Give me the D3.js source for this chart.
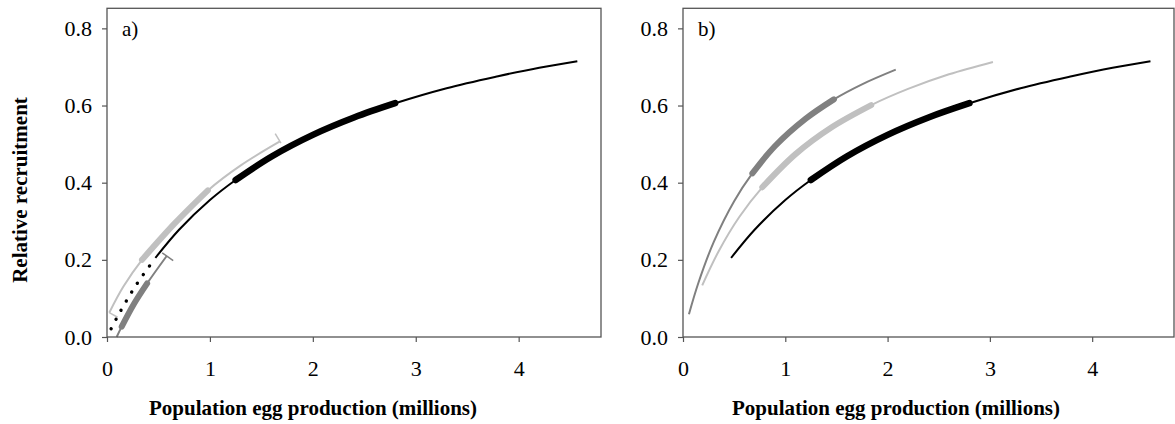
<!DOCTYPE html>
<html>
<head>
<meta charset="utf-8">
<script src="https://cdn.jsdelivr.net/npm/d3@7"></script>
<style>
  body { margin: 0; background: white; }
  svg { display: block; }
</style>
</head>
<body>
<div id="chart"></div>
<script>
// axis ticks
var xTicks = [0, 1, 2, 3, 4];
var yTicks = [0, 0.2, 0.4, 0.6, 0.8];

// black curve (both panels): egg production (millions) vs relative recruitment
var blackE = [0.47, 0.7, 1.0, 1.25, 1.6, 2.0, 2.4, 2.8, 3.3, 3.8, 4.2, 4.57];
var blackR = [0.205, 0.278, 0.355, 0.407, 0.468, 0.524, 0.569, 0.606, 0.645, 0.676, 0.698, 0.715];
var blackThick = [1.25, 2.8];

// dotted extension of the black curve, panel a
var dotE = [0.04, 0.1, 0.2, 0.3, 0.47];
var dotR = [0.0215, 0.052, 0.099, 0.1415, 0.205];

// panel a, light grey
var lightAE = [0.022, 0.158, 0.34, 0.66, 0.98, 1.3, 1.68];
var lightAR = [0.063, 0.13, 0.2, 0.295, 0.38, 0.445, 0.507];
var lightAThick = [0.34, 0.98];

// panel a, dark grey
var darkAE = [0.094, 0.143, 0.26, 0.39, 0.58];
var darkAR = [0, 0.027, 0.085, 0.139, 0.21];
var darkAThick = [0.143, 0.39];

// panel b, dark grey
var darkBE = [0.058, 0.15, 0.3, 0.5, 0.678, 0.9, 1.2, 1.475, 1.75, 2.08];
var darkBR = [0.059, 0.14, 0.246, 0.352, 0.424, 0.495, 0.566, 0.616, 0.655, 0.693];
var darkBThick = [0.678, 1.475];

// panel b, light grey
var lightBE = [0.188, 0.35, 0.55, 0.775, 1.1, 1.45, 1.84, 2.2, 2.6, 3.03];
var lightBR = [0.134, 0.223, 0.311, 0.388, 0.474, 0.543, 0.601, 0.643, 0.681, 0.713];
var lightBThick = [0.775, 1.84];

var W = 1175, H = 424;
var plotTop = 8.3, plotBottom = 337;
var font = "'Liberation Serif', 'Times New Roman', serif";

var svg = d3.select("#chart").append("svg")
  .attr("width", W)
  .attr("height", H);

function zip(es, rs) {
  return es.map(function(e, i) { return [e, rs[i]]; });
}

function drawPanel(left, right, label, curves, titleX, yTitle) {
  var x = d3.scaleLinear().domain([0, 4.8]).range([left, right]);
  var y = d3.scaleLinear().domain([0, 0.852]).range([plotBottom, plotTop]);
  var g = svg.append("g");

  var line = d3.line()
    .x(function(d) { return x(d[0]); })
    .y(function(d) { return y(d[1]); })
    .curve(d3.curveCatmullRom);

  curves.forEach(function(c) {
    var pts = zip(c.e, c.r);
    g.append("path")
      .attr("d", line(pts))
      .style("fill", "none")
      .style("stroke", c.color)
      .style("stroke-width", c.thin)
      .style("stroke-linecap", c.dots ? "round" : "butt")
      .style("stroke-dasharray", c.dots ? "0.1,10.4" : null);
    if (c.thick) {
      var sub = pts.filter(function(p) { return p[0] >= c.thick[0] - 1e-9 && p[0] <= c.thick[1] + 1e-9; });
      g.append("path")
        .attr("d", line(sub))
        .style("fill", "none")
        .style("stroke", c.color)
        .style("stroke-width", c.thickW)
        .style("stroke-linecap", "round");
    }
    (c.caps || []).forEach(function(cap) {
      // short bar across the end of the line
      var i0 = cap.end === "start" ? 0 : pts.length - 1;
      var i1 = cap.end === "start" ? 1 : pts.length - 2;
      var px = x(pts[i0][0]), py = y(pts[i0][1]);
      var dx = px - x(pts[i1][0]), dy = py - y(pts[i1][1]);
      var len = Math.sqrt(dx * dx + dy * dy);
      var nx = -dy / len, ny = dx / len;
      if (cap.end === "start") { nx = -nx; ny = -ny; }
      g.append("line")
        .attr("x1", px - nx * cap.a)
        .attr("y1", py - ny * cap.a)
        .attr("x2", px + nx * cap.b)
        .attr("y2", py + ny * cap.b)
        .style("stroke", c.color)
        .style("stroke-width", 1.5);
    });
  });

  // frame
  g.append("rect")
    .attr("x", left)
    .attr("y", plotTop)
    .attr("width", right - left)
    .attr("height", plotBottom - plotTop)
    .style("fill", "none")
    .style("stroke", "#555")
    .style("stroke-width", 1.3);

  var xAxis = g.append("g")
    .attr("transform", "translate(0," + plotBottom + ")")
    .call(d3.axisBottom(x).tickValues(xTicks).tickSize(5).tickPadding(18).tickFormat(d3.format("d")));
  var yAxis = g.append("g")
    .attr("transform", "translate(" + left + ",0)")
    .call(d3.axisLeft(y).tickValues(yTicks).tickSize(5).tickPadding(10).tickFormat(d3.format(".1f")));

  [xAxis, yAxis].forEach(function(a) {
    a.select(".domain").remove();
    a.selectAll(".tick line").style("stroke", "#555").style("stroke-width", 1.2);
    a.selectAll(".tick text")
      .style("font-family", font)
      .style("font-size", "22px")
      .style("fill", "black");
  });

  g.append("text")
    .attr("x", left + 15)
    .attr("y", 36)
    .style("font-family", font)
    .style("font-size", "21px")
    .text(label);

  g.append("text")
    .attr("x", titleX)
    .attr("y", 415)
    .style("font-family", font)
    .style("font-size", "21px")
    .style("font-weight", "bold")
    .style("text-anchor", "middle")
    .text("Population egg production (millions)");

  if (yTitle) {
    g.append("text")
      .attr("transform", "translate(27,190) rotate(-90)")
      .style("font-family", font)
      .style("font-size", "21px")
      .style("font-weight", "bold")
      .style("text-anchor", "middle")
      .text(yTitle);
  }
}

drawPanel(107, 601, "a)", [
  { e: lightAE, r: lightAR, color: "#c0c0c0", thin: 2, thick: lightAThick, thickW: 6,
    caps: [{ end: "start", a: 0, b: 9.5 }, { end: "end", a: 9, b: 2 }] },
  { e: darkAE, r: darkAR, color: "#808080", thin: 2, thick: darkAThick, thickW: 6,
    caps: [{ end: "end", a: 5.5, b: 8 }] },
  { e: dotE, r: dotR, color: "black", thin: 3.4, dots: true },
  { e: blackE, r: blackR, color: "black", thin: 2, thick: blackThick, thickW: 6.5 }
], 313, "Relative recruitment");

drawPanel(683, 1174, "b)", [
  { e: darkBE, r: darkBR, color: "#808080", thin: 2, thick: darkBThick, thickW: 6 },
  { e: lightBE, r: lightBR, color: "#c0c0c0", thin: 2, thick: lightBThick, thickW: 6 },
  { e: blackE, r: blackR, color: "black", thin: 2, thick: blackThick, thickW: 6.5 }
], 896, null);
</script>
</body>
</html>
